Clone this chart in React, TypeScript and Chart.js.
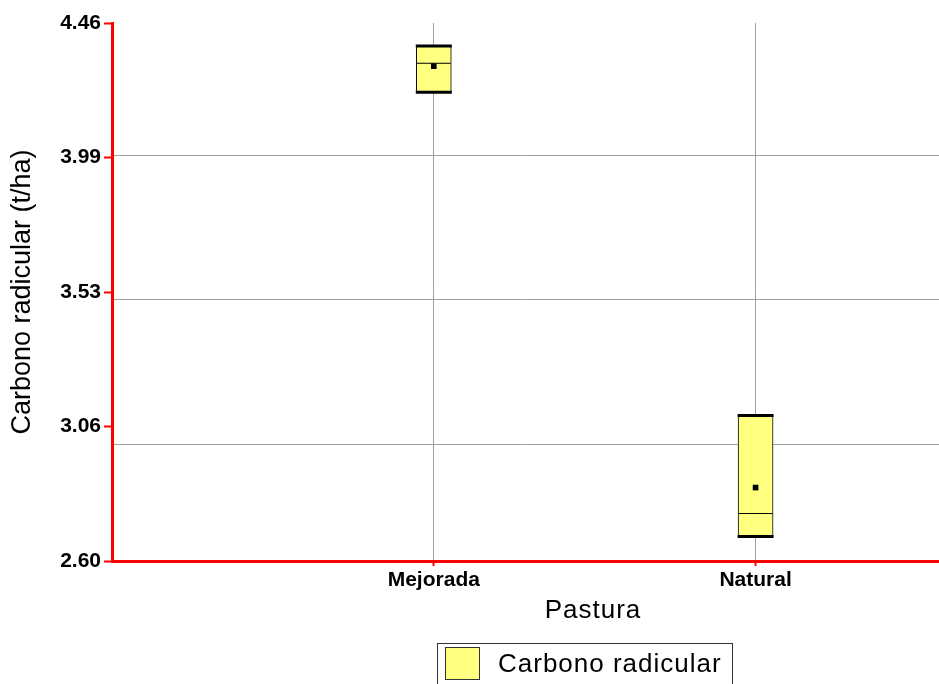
import React, { useEffect, useRef } from 'react';
import { Chart, registerables } from 'chart.js';

Chart.register(...registerables);

// Categories of pasture and their positions on the horizontal axis
const CATEGORIES = ['Mejorada', 'Natural'];
const CATEGORY_POSITIONS = [1, 2];

// Box statistics (t/ha)
const BOX_LOW = [4.22, 2.68];
const BOX_HIGH = [4.38, 3.1];
const WHISKER_LOW = [4.22, 2.68];
const WHISKER_HIGH = [4.38, 3.1];
const MEDIANS = [4.32, 2.76];
const MEANS = [4.31, 2.85];

// Value axis: range, labelled divisions and reference lines
const Y_MIN = 2.5955;
const Y_MAX = 4.4595;
const Y_TICK_LABELS = ['2.60', '3.06', '3.53', '3.99', '4.46'];
const Y_GRID = [3.0, 3.5, 4.0];
const X_MIN = 0;
const X_MAX = 2.57;

const SERIES_LABEL = 'Carbono radicular';
const X_TITLE = 'Pastura';
const Y_TITLE = 'Carbono radicular (t/ha)';

const FONT = '"Liberation Sans", Arial, Helvetica, sans-serif';
const BOX_FILL = '#ffff80';
const GRID_GRAY = '#a0a0a0';
const AXIS_RED = '#ff0000';

export default function App() {
  const canvasRef = useRef<HTMLCanvasElement | null>(null);

  useEffect(() => {
    const canvas = canvasRef.current;
    if (!canvas) return;

    const points = (values: number[]) =>
      CATEGORY_POSITIONS.map((x, i) => ({ x, y: values[i] }));

    // labelled divisions split the value range evenly
    const divisions = Y_TICK_LABELS.length - 1;
    const yTickValues = Y_TICK_LABELS.map((_, i) => Y_MIN + ((Y_MAX - Y_MIN) * i) / divisions);

    const chart = new Chart(canvas, {
      type: 'bar',
      data: {
        datasets: [
          {
            type: 'scatter',
            label: 'Media',
            data: points(MEANS),
            pointStyle: 'rect',
            pointRadius: 4,
            pointBackgroundColor: '#000000',
            pointBorderColor: '#000000',
            pointBorderWidth: 0,
          },
          {
            type: 'scatter',
            label: 'Mediana',
            data: points(MEDIANS),
            pointStyle: 'line',
            pointRadius: 17,
            pointBorderColor: '#000000',
            pointBorderWidth: 1,
          },
          {
            type: 'scatter',
            label: 'Máximo',
            data: points(WHISKER_HIGH),
            pointStyle: 'line',
            pointRadius: 18,
            pointBorderColor: '#000000',
            pointBorderWidth: 3,
          },
          {
            type: 'scatter',
            label: 'Mínimo',
            data: points(WHISKER_LOW),
            pointStyle: 'line',
            pointRadius: 18,
            pointBorderColor: '#000000',
            pointBorderWidth: 3,
          },
          {
            type: 'bar',
            label: SERIES_LABEL,
            data: CATEGORY_POSITIONS.map((x, i) => ({ x, y: [BOX_LOW[i], BOX_HIGH[i]] })),
            backgroundColor: BOX_FILL,
            borderColor: '#000000',
            borderWidth: 1,
            borderSkipped: false,
            barThickness: 35,
          },
        ],
      } as any,
      options: {
        responsive: false,
        animation: false,
        events: [],
        layout: { autoPadding: false, padding: { top: 23, right: 0, bottom: 0, left: 0 } },
        plugins: {
          legend: { display: false },
          tooltip: { enabled: false },
        },
        scales: {
          x: {
            type: 'linear',
            position: 'bottom',
            min: X_MIN,
            max: X_MAX,
            offset: false,
            afterBuildTicks: (s: any) => {
              s.ticks = CATEGORY_POSITIONS.map((value) => ({ value }));
            },
            afterFit: (s: any) => {
              s.height = 123;
              s.paddingLeft = 0;
              s.paddingRight = 0;
            },
            ticks: {
              autoSkip: false,
              maxRotation: 0,
              padding: 2,
              color: '#000000',
              font: { family: FONT, size: 21, weight: 'bold' },
              callback: (v: any) => CATEGORIES[CATEGORY_POSITIONS.indexOf(Number(v))] ?? '',
            },
            grid: {
              offset: false,
              color: GRID_GRAY,
              lineWidth: 1,
              tickColor: AXIS_RED,
              tickWidth: 2,
              tickLength: 5,
            },
            border: { color: AXIS_RED, width: 3 },
          },
          y: {
            type: 'linear',
            position: 'left',
            min: Y_MIN,
            max: Y_MAX,
            afterBuildTicks: (s: any) => {
              s.ticks = yTickValues.map((value) => ({ value }));
            },
            afterFit: (s: any) => {
              s.width = 112;
            },
            ticks: {
              autoSkip: false,
              padding: 3,
              color: '#000000',
              font: { family: FONT, size: 21, weight: 'bold' },
              callback: (_v: any, index: number) => Y_TICK_LABELS[index],
            },
            grid: {
              drawOnChartArea: false,
              color: AXIS_RED,
              tickColor: AXIS_RED,
              tickWidth: 2,
              tickLength: 8,
            },
            border: { color: AXIS_RED, width: 3 },
            title: {
              display: true,
              text: Y_TITLE,
              color: '#000000',
              font: { family: FONT, size: 27 },
              padding: { top: 6, bottom: 0 },
            },
          },
          yGrid: {
            type: 'linear',
            position: 'right',
            min: Y_MIN,
            max: Y_MAX,
            afterBuildTicks: (s: any) => {
              s.ticks = Y_GRID.map((value) => ({ value }));
            },
            afterFit: (s: any) => {
              s.width = 0;
              s.paddingTop = 0;
              s.paddingBottom = 0;
            },
            ticks: { display: false },
            grid: { color: GRID_GRAY, lineWidth: 1, drawTicks: false },
            border: { display: false },
          },
        },
      } as any,
    });

    return () => chart.destroy();
  }, []);

  return (
    <div
      style={{
        position: 'fixed',
        left: 0,
        top: 0,
        width: 939,
        height: 684,
        overflow: 'hidden',
        background: '#ffffff',
        fontFamily: FONT,
      }}
    >
      <canvas ref={canvasRef} width={939} height={684} style={{ display: 'block' }} />
      <div
        style={{
          position: 'absolute',
          left: 493,
          top: 594,
          width: 200,
          textAlign: 'center',
          fontSize: 26,
          lineHeight: '30px',
          letterSpacing: '1px',
          color: '#000000',
        }}
      >
        {X_TITLE}
      </div>
      <div
        style={{
          position: 'absolute',
          left: 437,
          top: 643,
          width: 294,
          height: 60,
          border: '1px solid #333333',
          background: '#ffffff',
        }}
      >
        <div
          style={{
            position: 'absolute',
            left: 7,
            top: 3,
            width: 35,
            height: 33,
            boxSizing: 'border-box',
            background: BOX_FILL,
            border: '1px solid #333333',
          }}
        />
        <span
          style={{
            position: 'absolute',
            left: 60,
            top: 4,
            fontSize: 26,
            lineHeight: '30px',
            letterSpacing: '1px',
            whiteSpace: 'nowrap',
            color: '#000000',
          }}
        >
          {SERIES_LABEL}
        </span>
      </div>
    </div>
  );
}
